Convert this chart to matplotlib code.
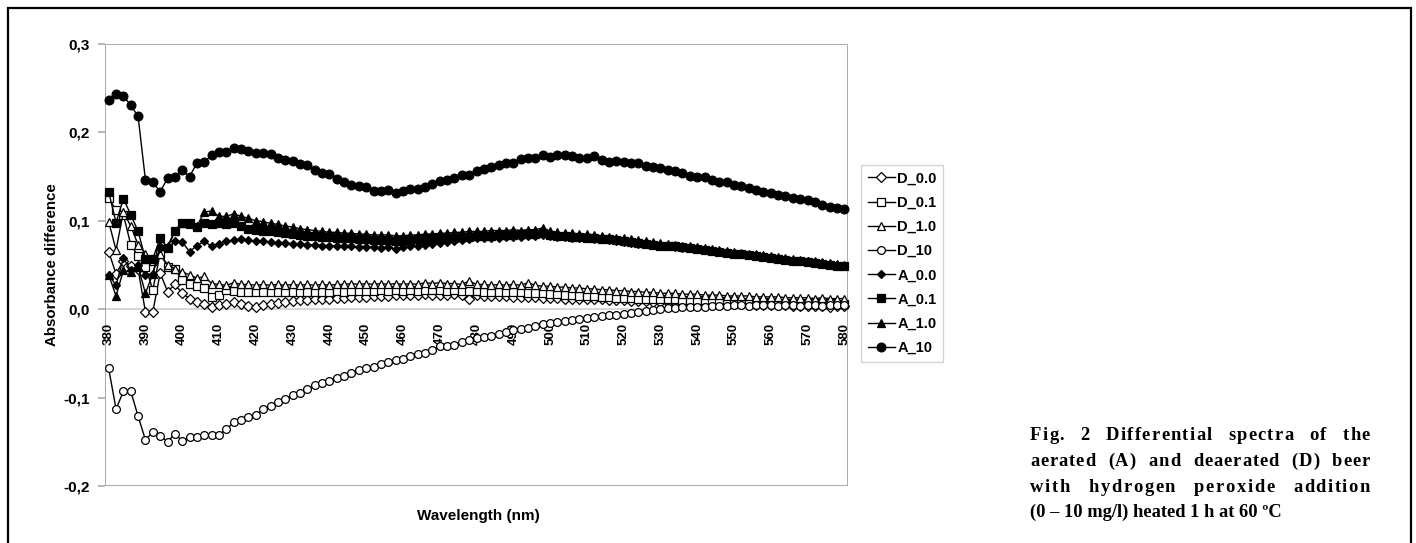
import matplotlib
matplotlib.use("Agg")
import matplotlib.pyplot as plt
from matplotlib.patches import Rectangle

plt.rcParams['font.family'] = ['Liberation Sans', 'DejaVu Sans']
plt.rcParams['font.weight'] = 'bold'

# ---------------- data ----------------
wavelength = list(range(380, 582, 2))

D_00 = [0.065, 0.040, 0.055, 0.049, 0.045,
        -0.003, -0.003, 0.041, 0.020, 0.028,
        0.018, 0.012, 0.008, 0.006, 0.003,
        0.005, 0.006, 0.008, 0.006, 0.004,
        0.003, 0.005, 0.006, 0.007, 0.008,
        0.009, 0.010, 0.010, 0.011, 0.012,
        0.012, 0.013, 0.013, 0.014, 0.014,
        0.014, 0.015, 0.015, 0.015, 0.016,
        0.016, 0.016, 0.016, 0.017, 0.016,
        0.016, 0.016, 0.017, 0.016, 0.012,
        0.016, 0.015, 0.015, 0.015, 0.015,
        0.014, 0.014, 0.014, 0.014, 0.013,
        0.013, 0.013, 0.012, 0.012, 0.012,
        0.011, 0.011, 0.011, 0.010, 0.010,
        0.010, 0.009, 0.009, 0.009, 0.008,
        0.008, 0.008, 0.008, 0.007, 0.007,
        0.007, 0.007, 0.006, 0.006, 0.006,
        0.006, 0.006, 0.005, 0.005, 0.005,
        0.005, 0.005, 0.005, 0.004, 0.004,
        0.004, 0.004, 0.004, 0.003, 0.004,
        0.004]

D_01 = [0.126, 0.112, 0.107, 0.073, 0.060,
        0.048, 0.022, 0.063, 0.048, 0.045,
        0.033, 0.028, 0.026, 0.024, 0.014,
        0.016, 0.022, 0.021, 0.020, 0.020,
        0.020, 0.020, 0.019, 0.020, 0.019,
        0.020, 0.019, 0.020, 0.020, 0.020,
        0.020, 0.021, 0.020, 0.021, 0.021,
        0.021, 0.021, 0.022, 0.021, 0.022,
        0.021, 0.022, 0.021, 0.022, 0.022,
        0.022, 0.021, 0.022, 0.021, 0.021,
        0.021, 0.020, 0.020, 0.020, 0.019,
        0.019, 0.019, 0.018, 0.018, 0.018,
        0.017, 0.017, 0.016, 0.016, 0.015,
        0.015, 0.015, 0.014, 0.014, 0.013,
        0.013, 0.013, 0.012, 0.012, 0.012,
        0.011, 0.011, 0.011, 0.010, 0.010,
        0.010, 0.010, 0.009, 0.009, 0.009,
        0.009, 0.008, 0.008, 0.008, 0.008,
        0.008, 0.007, 0.007, 0.007, 0.007,
        0.007, 0.007, 0.006, 0.007, 0.006,
        0.006]

D_10_ = [0.099, 0.067, 0.110, 0.094, 0.073,
         0.063, 0.055, 0.063, 0.050, 0.046,
         0.042, 0.039, 0.035, 0.037, 0.029,
         0.028, 0.027, 0.030, 0.028, 0.028,
         0.027, 0.028, 0.027, 0.028, 0.027,
         0.028, 0.027, 0.028, 0.027, 0.028,
         0.027, 0.028, 0.028, 0.029, 0.028,
         0.029, 0.028, 0.029, 0.028, 0.029,
         0.028, 0.029, 0.028, 0.030, 0.029,
         0.030, 0.029, 0.029, 0.028, 0.032,
         0.028, 0.028, 0.027, 0.028, 0.027,
         0.028, 0.027, 0.030, 0.027, 0.026,
         0.026, 0.025, 0.025, 0.024, 0.024,
         0.023, 0.023, 0.022, 0.022, 0.021,
         0.021, 0.020, 0.020, 0.019, 0.019,
         0.018, 0.018, 0.018, 0.017, 0.017,
         0.017, 0.016, 0.016, 0.016, 0.015,
         0.015, 0.015, 0.015, 0.014, 0.014,
         0.014, 0.014, 0.013, 0.013, 0.013,
         0.013, 0.012, 0.013, 0.012, 0.012,
         0.012]

D_100 = [-0.067, -0.113, -0.093, -0.093, -0.121,
         -0.148, -0.139, -0.143, -0.150, -0.141,
         -0.149, -0.145, -0.145, -0.142, -0.142,
         -0.142, -0.136, -0.128, -0.125, -0.122,
         -0.120, -0.113, -0.110, -0.105, -0.102,
         -0.097, -0.095, -0.090, -0.086, -0.084,
         -0.081, -0.078, -0.075, -0.072, -0.069,
         -0.067, -0.065, -0.062, -0.060, -0.058,
         -0.056, -0.053, -0.051, -0.049, -0.046,
         -0.042, -0.042, -0.040, -0.037, -0.035,
         -0.033, -0.031, -0.030, -0.028, -0.026,
         -0.024, -0.022, -0.021, -0.019, -0.017,
         -0.016, -0.014, -0.013, -0.012, -0.011,
         -0.010, -0.009, -0.008, -0.007, -0.006,
         -0.005, -0.004, -0.003, -0.002, -0.001,
         0.000, 0.001, 0.001, 0.002, 0.002,
         0.003, 0.003, 0.004, 0.004, 0.004,
         0.005, 0.005, 0.004, 0.005, 0.005,
         0.005, 0.004, 0.005, 0.005, 0.004,
         0.005, 0.005, 0.004, 0.005, 0.005,
         0.005]

A_00 = [0.039, 0.027, 0.058, 0.044, 0.050,
        0.039, 0.040, 0.069, 0.069, 0.077,
        0.076, 0.065, 0.072, 0.077, 0.071,
        0.074, 0.077, 0.078, 0.079, 0.078,
        0.077, 0.077, 0.076, 0.075, 0.075,
        0.074, 0.074, 0.073, 0.073, 0.072,
        0.072, 0.071, 0.071, 0.071, 0.070,
        0.070, 0.070, 0.069, 0.070, 0.068,
        0.070, 0.071, 0.072, 0.073, 0.074,
        0.075, 0.076, 0.077, 0.078, 0.079,
        0.080, 0.080, 0.081, 0.081, 0.082,
        0.082, 0.082, 0.083, 0.083, 0.084,
        0.083, 0.082, 0.082, 0.081, 0.081,
        0.080, 0.079, 0.079, 0.078, 0.077,
        0.076, 0.075, 0.074, 0.074, 0.073,
        0.072, 0.071, 0.070, 0.069, 0.069,
        0.068, 0.067, 0.066, 0.065, 0.064,
        0.063, 0.062, 0.061, 0.060, 0.059,
        0.058, 0.057, 0.056, 0.055, 0.055,
        0.054, 0.053, 0.052, 0.051, 0.050,
        0.049]

A_01 = [0.133, 0.098, 0.125, 0.107, 0.088,
        0.057, 0.057, 0.081, 0.069, 0.088,
        0.098, 0.098, 0.093, 0.098, 0.096,
        0.098, 0.096, 0.098, 0.094, 0.091,
        0.090, 0.089, 0.088, 0.087, 0.086,
        0.085, 0.084, 0.083, 0.083, 0.082,
        0.082, 0.081, 0.080, 0.080, 0.079,
        0.079, 0.078, 0.078, 0.078, 0.077,
        0.078, 0.078, 0.079, 0.079, 0.080,
        0.080, 0.081, 0.081, 0.082, 0.082,
        0.083, 0.083, 0.083, 0.084, 0.084,
        0.084, 0.085, 0.085, 0.085, 0.086,
        0.084, 0.083, 0.083, 0.082, 0.082,
        0.081, 0.080, 0.079, 0.079, 0.078,
        0.077, 0.076, 0.075, 0.074, 0.073,
        0.072, 0.071, 0.071, 0.070, 0.069,
        0.068, 0.067, 0.066, 0.065, 0.064,
        0.063, 0.062, 0.061, 0.060, 0.059,
        0.058, 0.057, 0.056, 0.055, 0.054,
        0.053, 0.052, 0.051, 0.050, 0.049,
        0.049]

A_10_ = [0.039, 0.015, 0.044, 0.042, 0.048,
         0.018, 0.040, 0.073, 0.071, 0.089,
         0.098, 0.096, 0.094, 0.110, 0.111,
         0.105, 0.105, 0.108, 0.105, 0.103,
         0.100, 0.099, 0.097, 0.096, 0.094,
         0.093, 0.091, 0.090, 0.089, 0.088,
         0.087, 0.087, 0.086, 0.086, 0.085,
         0.085, 0.084, 0.084, 0.084, 0.083,
         0.083, 0.084, 0.084, 0.085, 0.085,
         0.086, 0.086, 0.087, 0.087, 0.088,
         0.088, 0.088, 0.089, 0.089, 0.089,
         0.090, 0.089, 0.090, 0.090, 0.092,
         0.088, 0.087, 0.086, 0.086, 0.085,
         0.085, 0.084, 0.083, 0.082, 0.081,
         0.080, 0.079, 0.078, 0.077, 0.076,
         0.075, 0.074, 0.073, 0.072, 0.071,
         0.070, 0.069, 0.068, 0.067, 0.066,
         0.065, 0.064, 0.063, 0.062, 0.061,
         0.060, 0.059, 0.058, 0.057, 0.056,
         0.055, 0.054, 0.053, 0.052, 0.051,
         0.050]

A_100 = [0.237, 0.243, 0.241, 0.231, 0.218,
         0.146, 0.1435, 0.133, 0.148, 0.150,
         0.157, 0.150, 0.1655, 0.167, 0.174,
         0.1776, 0.1776, 0.1826, 0.181, 0.1795,
         0.177, 0.1765, 0.1754, 0.1716, 0.169,
         0.168, 0.1644, 0.1629, 0.158, 0.154,
         0.153, 0.147, 0.144, 0.1406, 0.1394,
         0.138, 0.1333, 0.134, 0.135, 0.1315,
         0.134, 0.136, 0.136, 0.138, 0.1417,
         0.1447, 0.1466, 0.148, 0.152, 0.152,
         0.156, 0.1587, 0.161, 0.163, 0.165,
         0.1655, 0.170, 0.1705, 0.1705, 0.174,
         0.1723, 0.1746, 0.174, 0.173, 0.171,
         0.171, 0.173, 0.169, 0.167, 0.168,
         0.166, 0.1655, 0.165, 0.1625, 0.1606,
         0.1595, 0.1576, 0.1564, 0.1545, 0.151,
         0.150, 0.149, 0.146, 0.144, 0.144,
         0.140, 0.139, 0.137, 0.135, 0.133,
         0.131, 0.129, 0.1276, 0.126, 0.1246,
         0.123, 0.121, 0.1174, 0.116, 0.115,
         0.113]

series_names = ['D_0.0', 'D_0.1', 'D_1.0', 'D_10', 'A_0.0', 'A_0.1', 'A_1.0', 'A_10']
series_values = [D_00, D_01, D_10_, D_100, A_00, A_01, A_10_, A_100]

x_tick_values = list(range(380, 590, 10))
y_tick_values = [-0.2, -0.1, 0.0, 0.1, 0.2, 0.3]
y_tick_labels = ['-0,2', '-0,1', '0,0', '0,1', '0,2', '0,3']

caption_lines = [
    "Fig. 2 Differential spectra of the",
    "aerated (A) and deaerated (D) beer",
    "with hydrogen peroxide addition",
    "(0 \u2013 10 mg/l) heated 1 h at 60 \u00baC",
]

# ---------------- styles ----------------
styles = {
    'D_0.0': dict(marker='D', ms=4.6, mfc='white'),
    'D_0.1': dict(marker='s', ms=5.4, mfc='white'),
    'D_1.0': dict(marker='^', ms=6.0, mfc='white'),
    'D_10':  dict(marker='o', ms=5.6, mfc='white'),
    'A_0.0': dict(marker='D', ms=4.3, mfc='black'),
    'A_0.1': dict(marker='s', ms=5.4, mfc='black'),
    'A_1.0': dict(marker='^', ms=6.0, mfc='black'),
    'A_10':  dict(marker='o', ms=6.3, mfc='black'),
}

W, H = 1416, 543
fig = plt.figure(figsize=(W / 100, H / 100), dpi=100)

# outer frame
fig.add_artist(Rectangle((8 / W, -0.2), (1411 - 8) / W, 1.2 - 8 / H,
                         transform=fig.transFigure, fill=False,
                         edgecolor='black', linewidth=1.6))

ax = fig.add_axes([105 / W, 1 - 486 / H, (848 - 105) / W, (486 - 44) / H])

handles = []
for name, vals in zip(series_names, series_values):
    st = styles[name]
    h, = ax.plot(wavelength, vals, color='black', linewidth=1.0,
                 marker=st['marker'], markersize=st['ms'],
                 markerfacecolor=st['mfc'], markeredgecolor='black',
                 markeredgewidth=0.9, label=name, clip_on=False, zorder=3)
    handles.append(h)

ax.set_xlim(379, 581)
ax.set_ylim(-0.2, 0.3)

# plot area border
border_col = '#a9a9a9'
ax.add_patch(Rectangle((0, 0), 1, 1, transform=ax.transAxes, fill=False,
                       edgecolor=border_col, linewidth=1.4, zorder=1))
for s in ['top', 'right', 'left']:
    ax.spines[s].set_visible(False)
ax.spines['bottom'].set_position(('data', 0))
ax.spines['bottom'].set_color('#cfcfcf')
ax.spines['bottom'].set_linewidth(1.2)
ax.spines['bottom'].set_zorder(0.5)

ax.set_xticks(x_tick_values)
ax.set_xticklabels([str(v) for v in x_tick_values])
ax.tick_params(axis='x', length=0, pad=10, labelsize=9.5, labelrotation=90)
for lab in ax.get_xticklabels():
    lab.set_fontweight('bold')

ax.set_yticks(y_tick_values)
ax.set_yticklabels(y_tick_labels)
ax.tick_params(axis='y', direction='out', length=5, width=1.2,
               color=border_col, pad=6, labelsize=11)
for lab in ax.get_yticklabels():
    lab.set_fontweight('bold')

# axis titles
fig.text(52 / W, 1 - 265 / H, 'Absorbance difference', rotation=90,
         ha='center', va='center', fontsize=10.8, fontweight='bold')
fig.text(478 / W, 1 - 516 / H, 'Wavelength (nm)', ha='center', va='center',
         fontsize=11, fontweight='bold')

# legend
leg = fig.legend(handles, series_names, loc='upper left',
                 bbox_to_anchor=(861 / W, 1 - 165 / H),
                 frameon=True, fancybox=False, fontsize=10.5,
                 handlelength=1.85, handletextpad=0.2, labelspacing=0.7,
                 borderpad=0.45, borderaxespad=0)
leg.get_frame().set_edgecolor('#c8c8c8')
leg.get_frame().set_linewidth(1.0)
for t in leg.get_texts():
    t.set_fontweight('bold')

# caption (justified with light letter spacing)
renderer = fig.canvas.get_renderer()
x0, x1 = 1030, 1370
line_y = [435, 461, 487, 512]
cap_font = dict(family=['Liberation Serif', 'DejaVu Serif'], fontweight='bold',
                fontsize=13.3)


def text_width(s):
    t = fig.text(0, 0, s, **cap_font)
    w = t.get_window_extent(renderer).width
    t.remove()
    return w


space_w = text_width("x x") - text_width("xx")

for i, (line, yy) in enumerate(zip(caption_lines, line_y)):
    if i < len(caption_lines) - 1:
        words = line.split()
        char_w = [[text_width(c) for c in w] for w in words]
        natural = sum(sum(cw) for cw in char_w) + space_w * (len(words) - 1)
        slack = (x1 - x0) - natural
        n_letter_gaps = sum(len(w) - 1 for w in words)
        word_factor = 9.0
        e_l = slack / (n_letter_gaps + word_factor * (len(words) - 1))
        xx = x0
        for wi, (w, cw) in enumerate(zip(words, char_w)):
            for ci, (c, cwi) in enumerate(zip(w, cw)):
                fig.text(xx / W, 1 - yy / H, c, ha='left', va='center', **cap_font)
                xx += cwi + (e_l if ci < len(w) - 1 else 0)
            xx += space_w + word_factor * e_l
    else:
        fig.text(x0 / W, 1 - yy / H, line, ha='left', va='center', **cap_font)

fig.savefig('out.png', dpi=100)
